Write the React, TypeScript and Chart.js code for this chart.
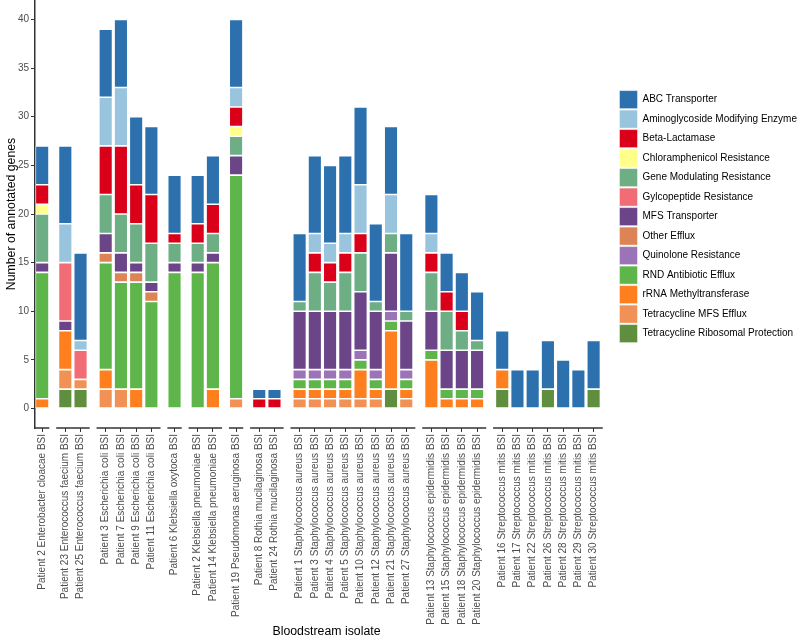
import React, { useEffect, useRef } from "react";
import { Chart, registerables } from "chart.js";

Chart.register(...registerables);

// ---------- data ----------
const isolateLabels = [
  "Patient 2 Enterobacter cloacae BSI",
  "Patient 23 Enterococcus faecium BSI",
  "Patient 25 Enterococcus faecium BSI",
  "Patient 3 Escherichia coli BSI",
  "Patient 7 Escherichia coli BSI",
  "Patient 9 Escherichia coli BSI",
  "Patient 11 Escherichia coli BSI",
  "Patient 6 Klebsiella oxytoca BSI",
  "Patient 2 Klebsiella pneumoniae BSI",
  "Patient 14 Klebsiella pneumoniae BSI",
  "Patient 19 Pseudomonas aeruginosa BSI",
  "Patient 8 Rothia mucilaginosa BSI",
  "Patient 24 Rothia mucilaginosa BSI",
  "Patient 1 Staphylococcus aureus BSI",
  "Patient 3 Staphylococcus aureus BSI",
  "Patient 4 Staphylococcus aureus BSI",
  "Patient 5 Staphylococcus aureus BSI",
  "Patient 10 Staphylococcus aureus BSI",
  "Patient 12 Staphylococcus aureus BSI",
  "Patient 21 Staphylococcus aureus BSI",
  "Patient 27 Staphylococcus aureus BSI",
  "Patient 13 Staphylococcus epidermidis BSI",
  "Patient 15 Staphylococcus epidermidis BSI",
  "Patient 18 Staphylococcus epidermidis BSI",
  "Patient 20 Staphylococcus epidermidis BSI",
  "Patient 16 Streptococcus mitis BSI",
  "Patient 17 Streptococcus mitis BSI",
  "Patient 22 Streptococcus mitis BSI",
  "Patient 26 Streptococcus mitis BSI",
  "Patient 28 Streptococcus mitis BSI",
  "Patient 29 Streptococcus mitis BSI",
  "Patient 30 Streptococcus mitis BSI",
];

const isolateSpecies = [
  "Enterobacter cloacae",
  "Enterococcus faecium", "Enterococcus faecium",
  "Escherichia coli", "Escherichia coli", "Escherichia coli", "Escherichia coli",
  "Klebsiella oxytoca",
  "Klebsiella pneumoniae", "Klebsiella pneumoniae",
  "Pseudomonas aeruginosa",
  "Rothia mucilaginosa", "Rothia mucilaginosa",
  "Staphylococcus aureus", "Staphylococcus aureus", "Staphylococcus aureus", "Staphylococcus aureus",
  "Staphylococcus aureus", "Staphylococcus aureus", "Staphylococcus aureus", "Staphylococcus aureus",
  "Staphylococcus epidermidis", "Staphylococcus epidermidis", "Staphylococcus epidermidis", "Staphylococcus epidermidis",
  "Streptococcus mitis", "Streptococcus mitis", "Streptococcus mitis", "Streptococcus mitis",
  "Streptococcus mitis", "Streptococcus mitis", "Streptococcus mitis",
];

const abcTransporter =      [4, 8, 9, 7, 7, 7, 7, 6, 5, 5, 7, 1, 1, 7, 8, 8, 8, 8, 8, 7, 8, 4, 4, 4, 5, 4, 4, 4, 5, 5, 4, 5];
const aminoglycoside =      [0, 4, 1, 5, 6, 0, 0, 0, 0, 0, 2, 0, 0, 0, 2, 2, 2, 5, 0, 4, 0, 2, 0, 0, 0, 0, 0, 0, 0, 0, 0, 0];
const betaLactamase =       [2, 0, 0, 5, 7, 4, 5, 1, 2, 3, 2, 1, 1, 0, 2, 2, 2, 2, 0, 0, 0, 2, 2, 2, 0, 0, 0, 0, 0, 0, 0, 0];
const chloramphenicol =     [1, 0, 0, 0, 0, 0, 0, 0, 0, 0, 1, 0, 0, 0, 0, 0, 0, 0, 0, 0, 0, 0, 0, 0, 0, 0, 0, 0, 0, 0, 0, 0];
const geneModulating =      [5, 0, 0, 4, 4, 4, 4, 2, 2, 2, 2, 0, 0, 1, 4, 3, 4, 4, 1, 2, 1, 4, 4, 2, 1, 0, 0, 0, 0, 0, 0, 0];
const glycopeptide =        [0, 6, 3, 0, 0, 0, 0, 0, 0, 0, 0, 0, 0, 0, 0, 0, 0, 0, 0, 0, 0, 0, 0, 0, 0, 0, 0, 0, 0, 0, 0, 0];
const mfsTransporter =      [1, 1, 0, 2, 2, 1, 1, 1, 1, 1, 2, 0, 0, 6, 6, 6, 6, 6, 6, 6, 5, 4, 4, 4, 4, 0, 0, 0, 0, 0, 0, 0];
const otherEfflux =         [0, 0, 0, 1, 1, 1, 1, 0, 0, 0, 0, 0, 0, 0, 0, 0, 0, 0, 0, 0, 0, 0, 0, 0, 0, 0, 0, 0, 0, 0, 0, 0];
const quinolone =           [0, 0, 0, 0, 0, 0, 0, 0, 0, 0, 0, 0, 0, 1, 1, 1, 1, 1, 1, 1, 1, 0, 0, 0, 0, 0, 0, 0, 0, 0, 0, 0];
const rndEfflux =           [13, 0, 0, 11, 11, 11, 11, 14, 14, 13, 23, 0, 0, 1, 1, 1, 1, 1, 1, 1, 1, 1, 1, 1, 1, 0, 0, 0, 0, 0, 0, 0];
const rrnaMethyl =          [1, 4, 0, 2, 0, 2, 0, 0, 0, 2, 0, 0, 0, 1, 1, 1, 1, 3, 1, 6, 1, 5, 1, 1, 1, 2, 0, 0, 0, 0, 0, 0];
const tetMfsEfflux =        [0, 2, 1, 2, 2, 0, 0, 0, 0, 0, 1, 0, 0, 1, 1, 1, 1, 1, 1, 0, 1, 0, 0, 0, 0, 0, 0, 0, 0, 0, 0, 0];
const tetRibosomal =        [0, 2, 2, 0, 0, 0, 0, 0, 0, 0, 0, 0, 0, 0, 0, 0, 0, 0, 0, 2, 0, 0, 0, 0, 0, 2, 0, 0, 2, 0, 0, 2];

const yTicks = [0, 5, 10, 15, 20, 25, 30, 35, 40];

// stacking order: first = bottom of each bar
const seriesList = [
  { name: "Tetracycline Ribosomal Protection", values: tetRibosomal, color: "#5f8e3e" },
  { name: "Tetracycline MFS Efflux", values: tetMfsEfflux, color: "#f29155" },
  { name: "rRNA Methyltransferase", values: rrnaMethyl, color: "#ff7f1f" },
  { name: "RND Antibiotic Efflux", values: rndEfflux, color: "#5eb64b" },
  { name: "Quinolone Resistance", values: quinolone, color: "#9b74b7" },
  { name: "Other Efflux", values: otherEfflux, color: "#dd8457" },
  { name: "MFS Transporter", values: mfsTransporter, color: "#6c4588" },
  { name: "Gylcopeptide Resistance", values: glycopeptide, color: "#f16c74" },
  { name: "Gene Modulating Resistance", values: geneModulating, color: "#6eae84" },
  { name: "Chloramphenicol Resistance", values: chloramphenicol, color: "#ffff8a" },
  { name: "Beta-Lactamase", values: betaLactamase, color: "#db0019" },
  { name: "Aminoglycoside Modifying Enzyme", values: aminoglycoside, color: "#99c4de" },
  { name: "ABC Transporter", values: abcTransporter, color: "#2c71ae" },
];

// ---------- facet-like panel layout along a linear x axis ----------
const PAD_MULTI = 0.6;
const PAD_SINGLE = 0.47;
const PANEL_GAP = 0.45;
const RIGHT_SPACE = 1.0;

function buildPanels() {
  const groups: { start: number; count: number }[] = [];
  isolateSpecies.forEach((s, i) => {
    if (i === 0 || s !== isolateSpecies[i - 1]) groups.push({ start: i, count: 1 });
    else groups[groups.length - 1].count++;
  });
  const centers: number[] = [];
  const panels: { from: number; to: number }[] = [];
  let pos = 0;
  groups.forEach((g) => {
    const pad = g.count === 1 ? PAD_SINGLE : PAD_MULTI;
    const from = pos;
    for (let k = 0; k < g.count; k++) centers.push(from + pad + k);
    const to = from + pad + (g.count - 1) + pad;
    panels.push({ from, to });
    pos = to + PANEL_GAP;
  });
  return { centers, panels, end: panels[panels.length - 1].to };
}

const layoutInfo = buildPanels();

const panelAxisPlugin = {
  id: "panelAxis",
  afterDraw(chart: any) {
    const xs = chart.scales.x;
    const y = chart.chartArea.bottom;
    const ctx = chart.ctx;
    ctx.save();
    ctx.strokeStyle = "#333333";
    ctx.lineWidth = 1.5;
    layoutInfo.panels.forEach((p) => {
      ctx.beginPath();
      ctx.moveTo(xs.getPixelForValue(p.from), y);
      ctx.lineTo(xs.getPixelForValue(p.to), y);
      ctx.stroke();
    });
    ctx.restore();
  },
};

export default function App() {
  const canvasRef = useRef<HTMLCanvasElement | null>(null);

  useEffect(() => {
    if (!canvasRef.current) return;
    const datasets = seriesList.map((s) => ({
      label: s.name,
      data: s.values.map((v, i) => ({ x: layoutInfo.centers[i], y: v === 0 ? null : v })),
      backgroundColor: s.color,
      borderColor: "rgba(255,255,255,0.55)",
      borderWidth: 0.8,
      borderSkipped: false,
      categoryPercentage: 1,
      barPercentage: 0.9,
    }));

    const chart = new Chart(canvasRef.current, {
      type: "bar",
      data: { datasets } as any,
      plugins: [panelAxisPlugin],
      options: {
        animation: false,
        responsive: true,
        maintainAspectRatio: false,
        layout: { padding: { left: 0, top: 0, right: -7, bottom: 0 } },
        plugins: {
          tooltip: { enabled: false },
          legend: {
            position: "right",
            fullSize: false,
            reverse: true,
            title: { display: true, text: "", padding: 2, font: { size: 1 } },
            labels: {
              boxWidth: 18,
              boxHeight: 18,
              padding: 1.5,
              color: "#000000",
              font: { family: "'Liberation Sans', Arial, sans-serif", size: 10 },
            },
          },
        },
        scales: {
          x: {
            type: "linear",
            stacked: true,
            offset: false,
            min: 0,
            max: layoutInfo.end + RIGHT_SPACE,
            afterBuildTicks: (scale: any) => {
              scale.ticks = layoutInfo.centers.map((c) => ({ value: c }));
            },
            afterFit: (scale: any) => {
              scale.height = 212;
              scale.paddingLeft = 0;
              scale.paddingRight = 0;
            },
            ticks: {
              autoSkip: false,
              minRotation: 90,
              maxRotation: 90,
              padding: 2,
              color: "#4d4d4d",
              font: { family: "'Liberation Sans', Arial, sans-serif", size: 10 },
              callback: (_v: any, index: number) => isolateLabels[index],
            },
            grid: {
              display: true,
              offset: false,
              drawOnChartArea: false,
              drawTicks: true,
              tickLength: 4,
              color: "#333333",
            },
            border: { display: false },
            title: {
              display: true,
              text: "Bloodstream isolate",
              color: "#000000",
              padding: { top: 4, bottom: 1 },
              font: { family: "'Liberation Sans', Arial, sans-serif", size: 12.3 },
            },
          },
          y: {
            type: "linear",
            stacked: true,
            min: -2,
            max: 42,
            afterBuildTicks: (scale: any) => {
              scale.ticks = yTicks.map((v) => ({ value: v }));
            },
            afterFit: (scale: any) => {
              scale.width = 35;
              scale.paddingTop = 0;
              scale.paddingBottom = 0;
            },
            ticks: {
              padding: 2,
              color: "#4d4d4d",
              font: { family: "'Liberation Sans', Arial, sans-serif", size: 10 },
            },
            grid: {
              display: true,
              drawOnChartArea: false,
              drawTicks: true,
              tickLength: 4,
              color: "#333333",
            },
            border: { display: true, color: "#333333", width: 1.5 },
            title: {
              display: true,
              text: "Number of annotated genes",
              color: "#000000",
              padding: { top: 4, bottom: 4 },
              font: { family: "'Liberation Sans', Arial, sans-serif", size: 12.3 },
            },
          },
        },
      } as any,
    });
    return () => chart.destroy();
  }, []);

  return (
    <div style={{ position: "absolute", left: 0, top: 0, width: 800, height: 640, background: "#ffffff" }}>
      <canvas ref={canvasRef} />
    </div>
  );
}
